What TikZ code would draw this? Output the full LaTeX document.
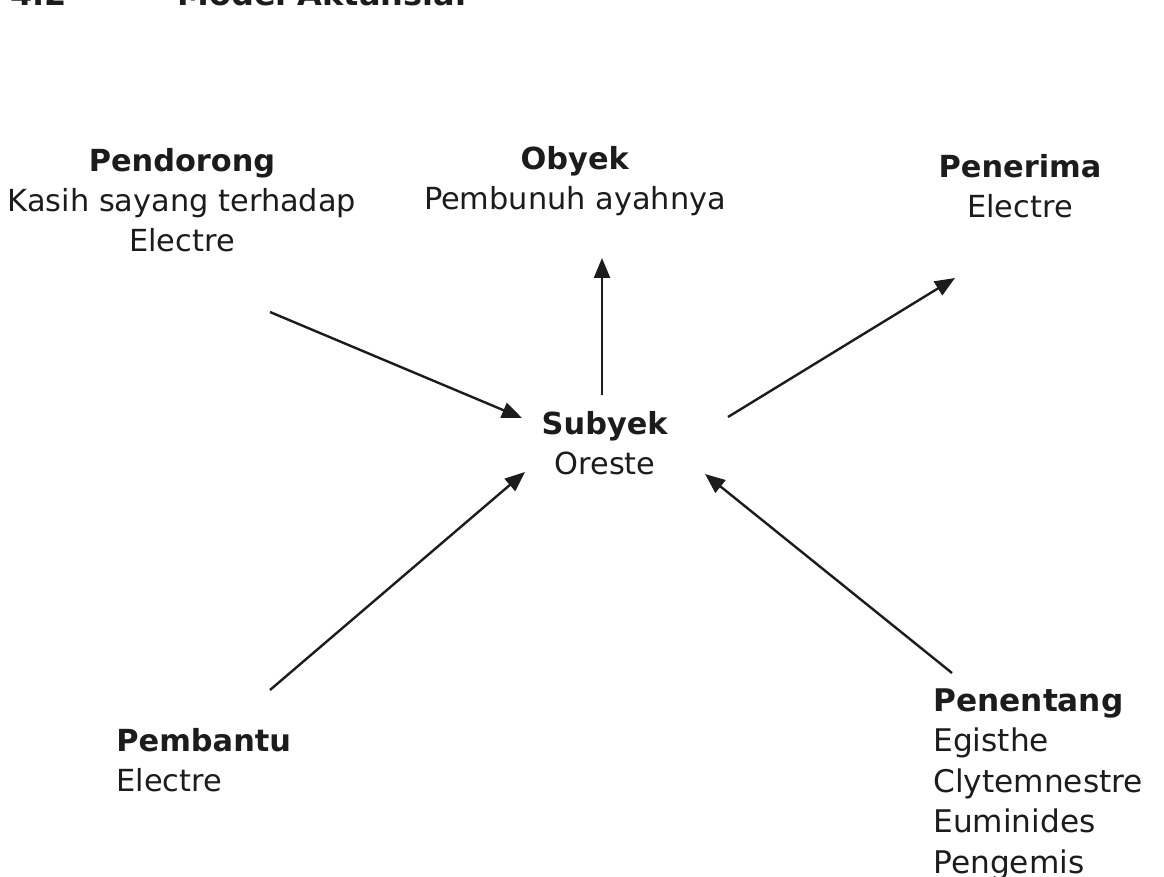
\documentclass[tikz,border=0pt]{standalone}
\usepackage{fontspec}
\setmainfont{DejaVu Sans}
\definecolor{inkgray}{RGB}{28, 28, 28}
\usetikzlibrary{arrows.meta, positioning, calc}

\begin{document}
\begin{tikzpicture}[x=0.5pt, y=-0.5pt,
  role/.style={inner sep=0pt, text=inkgray, font=\fontsize{15.2}{20}\selectfont},
  arr/.style={-{Triangle[length=10pt, width=8pt]}, line width=1.2pt, draw=inkgray}]
  \useasboundingbox (0,0) rectangle (1164,877);

  % heading, cut off at the top of the page
  \node[role, anchor=base west, font=\bfseries\fontsize{16}{20}\selectfont] (nomor) at (10,6) {4.2};
  \node[role, anchor=base west, font=\bfseries\fontsize{16}{20}\selectfont] (judul) at (177,6) {Model Aktansial};

  % the six actants
  \node[role, align=center] (pendorong) at (182,200) {\textbf{Pendorong}\\Kasih sayang terhadap\\Electre};
  \node[role, align=center] (obyek) at (575,181) {\textbf{Obyek}\\Pembunuh ayahnya};
  \node[role, align=center] (penerima) at (1020,186) {\textbf{Penerima}\\Electre};
  \node[role, align=center] (subyek) at (605,443) {\textbf{Subyek}\\Oreste};
  \node[role, align=left, anchor=west] (pembantu) at (116,760) {\textbf{Pembantu}\\Electre};
  \node[role, align=left, anchor=north west, font=\fontsize{15.6}{20.3}\selectfont] (penentang) at (933,688) {\textbf{Penentang}\\Egisthe\\Clytemnestre\\Euminides\\Pengemis};

  % arrows
  \draw[arr] ([shift={(88,112)}]pendorong.center) -- ([shift={(-83,-25)}]subyek.center);
  \draw[arr] ([shift={(-3,-48)}]subyek.center) -- ([shift={(27,77)}]obyek.center);
  \draw[arr] ([shift={(123,-26)}]subyek.center) -- ([shift={(-65,92)}]penerima.center);
  \draw[arr] ([shift={(154,-70)}]pembantu.west) -- ([shift={(-80,29)}]subyek.center);
  \draw[arr] ([shift={(19,-15)}]penentang.north west) -- ([shift={(100,31)}]subyek.center);
\end{tikzpicture}
\end{document}
